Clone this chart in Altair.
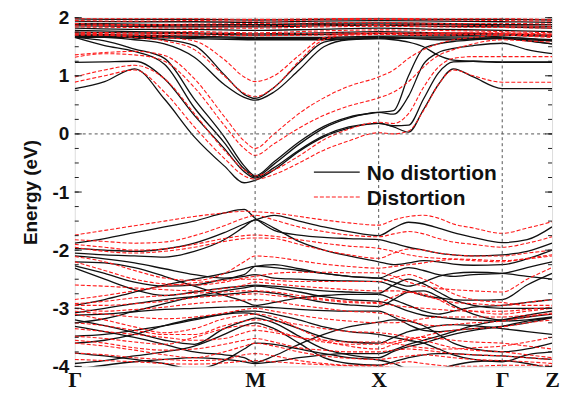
import altair as alt
import pandas as pd

# ---- k-path (distance along path) ----
K = [0, 30, 60, 90, 120, 150, 170, 181, 200, 225, 250, 275, 305, 320, 335, 350, 365, 380, 400, 429, 454, 479]
KF = [0, 60, 120, 181, 243, 305, 367, 429, 479]
K_HS = [0, 181, 305, 429, 479]
K_LABELS = ["Γ", "M", "X", "Γ", "Z"]
K_GRID = [181, 305, 429]

# ---- No distortion (black) ----
black_top = [
    [1.66, 1.66, 1.64, 1.62, 1.62, 1.64, 1.65, 1.64, 1.55],
    [1.69, 1.68, 1.66, 1.64, 1.64, 1.66, 1.67, 1.66, 1.62],
    [1.72, 1.70, 1.68, 1.66, 1.66, 1.68, 1.70, 1.67, 1.60],
    [1.75, 1.74, 1.72, 1.70, 1.71, 1.73, 1.72, 1.70, 1.68],
    [1.78, 1.76, 1.74, 1.72, 1.74, 1.76, 1.74, 1.72, 1.70],
    [1.82, 1.80, 1.80, 1.78, 1.80, 1.82, 1.80, 1.78, 1.76],
    [1.86, 1.85, 1.84, 1.84, 1.86, 1.87, 1.85, 1.84, 1.82],
    [1.88, 1.87, 1.86, 1.86, 1.88, 1.89, 1.88, 1.86, 1.85],
    [1.90, 1.89, 1.88, 1.88, 1.90, 1.91, 1.90, 1.88, 1.88],
    [1.94, 1.93, 1.93, 1.92, 1.94, 1.95, 1.94, 1.93, 1.92],
    [1.98, 1.97, 1.97, 1.96, 1.97, 1.98, 1.97, 1.97, 1.96],
]
black_bands = [
    [0.78, 0.90, 1.12, 0.60, -0.05, -0.55, -0.84, -0.80, -0.62, -0.30, -0.05, 0.10, 0.18, 0.12, 0.03, 0.42, 0.85, 1.12, 0.98, 0.78, 0.78, 0.78],
    [1.23, 1.24, 1.25, 0.95, 0.32, -0.25, -0.65, -0.76, -0.58, -0.28, -0.03, 0.12, 0.18, 0.14, 0.15, 0.60, 1.05, 1.24, 1.25, 1.23, 1.23, 1.23],
    [1.66, 1.52, 1.42, 1.20, 0.45, -0.15, -0.60, -0.74, -0.52, -0.18, 0.10, 0.27, 0.37, 0.34, 0.65, 1.20, 1.40, 1.47, 1.52, 1.56, 1.45, 1.38],
    [1.66, 1.60, 1.46, 1.30, 0.60, -0.05, -0.55, -0.72, -0.48, -0.14, 0.13, 0.29, 0.37, 0.40, 1.00, 1.47, 1.55, 1.59, 1.62, 1.65, 1.60, 1.55],
    [1.68, 1.66, 1.62, 1.55, 1.32, 0.85, 0.63, 0.58, 0.72, 1.10, 1.50, 1.62, 1.64, 1.62, 1.58, 1.50, 1.35, 1.27, 1.25, 1.24, 1.24, 1.24],
    [1.70, 1.68, 1.65, 1.62, 1.52, 1.02, 0.68, 0.61, 0.80, 1.22, 1.58, 1.64, 1.65, 1.66, 1.65, 1.63, 1.62, 1.62, 1.63, 1.64, 1.62, 1.60],
    [-1.88, -1.80, -1.70, -1.60, -1.50, -1.36, -1.30, -1.45, -1.66, -1.74, -1.78, -1.80, -1.82, -1.88, -1.95, -2.00, -2.05, -2.08, -2.10, -2.08, -2.02, -1.88],
    [-1.97, -2.00, -2.02, -1.98, -1.88, -1.70, -1.55, -1.48, -1.40, -1.50, -1.60, -1.68, -1.75, -1.62, -1.52, -1.55, -1.62, -1.70, -1.78, -1.87, -1.82, -1.60],
    [-2.05, -2.08, -2.10, -2.12, -2.02, -1.82, -1.60, -1.48, -1.62, -1.85, -2.00, -2.10, -2.20, -2.25, -2.22, -2.18, -2.20, -2.24, -2.26, -2.25, -2.15, -2.00],
    [-2.10, -2.15, -2.22, -2.32, -2.42, -2.48, -2.42, -2.28, -2.25, -2.32, -2.40, -2.45, -2.48, -2.38, -2.30, -2.35, -2.42, -2.45, -2.42, -2.40, -2.30, -2.20],
    [-2.27, -2.40, -2.55, -2.62, -2.60, -2.50, -2.45, -2.42, -2.48, -2.50, -2.52, -2.53, -2.54, -2.62, -2.70, -2.78, -2.82, -2.85, -2.86, -2.85, -2.60, -2.40],
    [-2.31, -2.50, -2.68, -2.78, -2.72, -2.65, -2.62, -2.60, -2.62, -2.66, -2.70, -2.72, -2.74, -2.60, -2.50, -2.58, -2.72, -2.85, -2.95, -3.00, -3.00, -3.00],
    [-3.08, -3.00, -2.92, -2.85, -2.80, -2.76, -2.73, -2.71, -2.74, -2.82, -2.90, -2.94, -2.97, -2.85, -2.72, -2.70, -2.80, -2.95, -3.10, -3.20, -3.15, -3.10],
    [-3.12, -3.10, -3.06, -3.02, -3.00, -2.98, -2.97, -2.97, -2.99, -3.02, -3.04, -3.05, -3.05, -3.15, -3.28, -3.38, -3.40, -3.38, -3.35, -3.31, -3.25, -3.16],
    [-3.20, -3.30, -3.42, -3.55, -3.62, -3.35, -3.22, -3.17, -3.25, -3.48, -3.70, -3.80, -3.85, -3.74, -3.66, -3.60, -3.52, -3.45, -3.38, -3.31, -3.22, -3.16],
    [-3.31, -3.40, -3.50, -3.62, -3.75, -3.80, -3.85, -3.93, -3.82, -3.62, -3.45, -3.32, -3.24, -3.20, -3.22, -3.30, -3.45, -3.60, -3.70, -3.75, -3.70, -3.60],
    [-3.48, -3.45, -3.38, -3.30, -3.20, -3.10, -3.05, -3.05, -3.10, -3.20, -3.32, -3.40, -3.45, -3.50, -3.55, -3.60, -3.70, -3.80, -3.88, -3.92, -3.80, -3.75],
    [-3.77, -3.82, -3.88, -3.95, -4.05, -3.90, -3.70, -3.60, -3.62, -3.70, -3.78, -3.85, -3.89, -3.95, -4.05, -4.10, -4.05, -3.98, -3.92, -3.90, -3.95, -4.05],
    [-3.95, -3.90, -3.82, -3.75, -3.65, -3.45, -3.30, -3.25, -3.35, -3.60, -3.85, -3.95, -3.98, -3.92, -3.85, -3.80, -3.78, -3.78, -3.80, -3.82, -3.85, -3.88],
    [-4.05, -3.98, -3.92, -3.88, -3.85, -3.88, -3.92, -3.95, -3.92, -3.85, -3.80, -3.78, -3.78, -3.72, -3.62, -3.55, -3.48, -3.40, -3.30, -3.20, -3.12, -3.05],
    [-2.95, -2.85, -2.72, -2.60, -2.50, -2.40, -2.32, -2.28, -2.30, -2.35, -2.40, -2.45, -2.48, -2.55, -2.62, -2.55, -2.45, -2.40, -2.38, -2.40, -2.45, -2.50],
    [-3.25, -3.18, -3.05, -2.92, -2.80, -2.70, -2.65, -2.62, -2.65, -2.72, -2.80, -2.85, -2.88, -2.95, -3.05, -3.12, -3.15, -3.18, -3.20, -3.22, -3.20, -3.15],
    [-3.60, -3.55, -3.45, -3.30, -3.18, -3.10, -3.08, -3.10, -3.20, -3.35, -3.50, -3.58, -3.60, -3.50, -3.40, -3.35, -3.30, -3.28, -3.30, -3.35, -3.40, -3.45],
    [-2.20, -2.22, -2.30, -2.45, -2.62, -2.78, -2.88, -2.95, -2.90, -2.82, -2.78, -2.76, -2.76, -2.85, -2.95, -3.05, -3.10, -3.05, -2.98, -2.95, -2.90, -2.85],
]

# ---- Distortion (red) ----
red_top = [
    [1.70, 1.70, 1.70, 1.69, 1.70, 1.71, 1.72, 1.70, 1.68],
    [1.72, 1.72, 1.73, 1.72, 1.73, 1.74, 1.74, 1.73, 1.71],
    [1.75, 1.74, 1.76, 1.74, 1.77, 1.79, 1.78, 1.76, 1.74],
    [1.84, 1.83, 1.82, 1.82, 1.84, 1.85, 1.84, 1.83, 1.82],
    [1.87, 1.86, 1.86, 1.86, 1.87, 1.88, 1.87, 1.86, 1.85],
    [1.90, 1.88, 1.89, 1.90, 1.91, 1.92, 1.90, 1.90, 1.89],
    [1.95, 1.94, 1.95, 1.94, 1.96, 1.97, 1.96, 1.95, 1.94],
    [1.98, 1.98, 1.98, 1.97, 1.98, 1.99, 1.98, 1.98, 1.97],
]
red_bands = [
    [0.89, 1.00, 1.10, 0.72, 0.12, -0.42, -0.72, -0.78, -0.70, -0.50, -0.28, -0.12, 0.02, 0.00, 0.05, 0.40, 0.85, 1.10, 1.00, 0.89, 0.89, 0.89],
    [0.98, 1.10, 1.18, 0.95, 0.35, -0.28, -0.62, -0.72, -0.62, -0.38, -0.10, 0.08, 0.20, 0.18, 0.35, 0.80, 1.15, 1.30, 1.33, 1.33, 1.33, 1.33],
    [1.32, 1.38, 1.36, 1.25, 0.80, 0.15, -0.25, -0.37, -0.17, 0.10, 0.32, 0.48, 0.62, 0.72, 0.90, 1.15, 1.35, 1.45, 1.55, 1.62, 1.60, 1.58],
    [1.36, 1.40, 1.42, 1.35, 0.95, 0.30, -0.12, -0.25, 0.00, 0.35, 0.62, 0.82, 0.98, 1.10, 1.30, 1.45, 1.55, 1.62, 1.66, 1.70, 1.68, 1.66],
    [1.72, 1.70, 1.66, 1.60, 1.45, 1.00, 0.70, 0.64, 0.80, 1.25, 1.62, 1.70, 1.71, 1.71, 1.70, 1.70, 1.70, 1.70, 1.71, 1.72, 1.71, 1.70],
    [1.74, 1.72, 1.70, 1.66, 1.60, 1.28, 0.98, 0.90, 1.00, 1.35, 1.66, 1.72, 1.73, 1.73, 1.72, 1.72, 1.73, 1.73, 1.74, 1.74, 1.73, 1.72],
    [-1.74, -1.66, -1.58, -1.50, -1.42, -1.36, -1.33, -1.34, -1.36, -1.42, -1.48, -1.53, -1.57, -1.48, -1.42, -1.40, -1.45, -1.55, -1.62, -1.71, -1.62, -1.51],
    [-1.82, -1.85, -1.88, -1.86, -1.75, -1.58, -1.45, -1.40, -1.48, -1.60, -1.68, -1.74, -1.77, -1.72, -1.68, -1.72, -1.80, -1.86, -1.90, -1.95, -1.88, -1.77],
    [-1.95, -2.02, -2.05, -2.02, -1.95, -1.85, -1.80, -1.79, -1.80, -1.90, -2.00, -2.08, -2.14, -2.05, -1.98, -2.00, -2.05, -2.08, -2.10, -2.10, -2.05, -2.00],
    [-2.11, -2.20, -2.35, -2.48, -2.52, -2.40, -2.20, -2.10, -2.12, -2.18, -2.24, -2.28, -2.31, -2.28, -2.25, -2.22, -2.18, -2.16, -2.18, -2.20, -2.14, -2.08],
    [-2.20, -2.35, -2.50, -2.58, -2.60, -2.55, -2.48, -2.45, -2.40, -2.38, -2.38, -2.39, -2.39, -2.45, -2.55, -2.62, -2.66, -2.68, -2.70, -2.72, -2.50, -2.30],
    [-2.85, -2.78, -2.70, -2.62, -2.56, -2.52, -2.50, -2.50, -2.52, -2.54, -2.54, -2.54, -2.54, -2.48, -2.42, -2.50, -2.62, -2.75, -2.85, -2.90, -2.95, -2.95],
    [-2.92, -2.88, -2.82, -2.78, -2.74, -2.72, -2.70, -2.70, -2.72, -2.78, -2.84, -2.88, -2.90, -2.80, -2.72, -2.75, -2.85, -2.98, -3.05, -3.10, -3.05, -3.00],
    [-3.00, -3.05, -3.02, -2.98, -2.92, -2.88, -2.86, -2.85, -2.88, -2.95, -3.00, -3.05, -3.08, -3.12, -3.20, -3.28, -3.30, -3.28, -3.25, -3.22, -3.15, -3.08],
    [-3.10, -3.20, -3.32, -3.42, -3.35, -3.18, -3.12, -3.10, -3.15, -3.35, -3.55, -3.65, -3.70, -3.62, -3.55, -3.48, -3.42, -3.38, -3.35, -3.32, -3.25, -3.20],
    [-3.25, -3.30, -3.38, -3.45, -3.45, -3.30, -3.22, -3.20, -3.22, -3.28, -3.35, -3.40, -3.42, -3.45, -3.50, -3.55, -3.62, -3.68, -3.72, -3.75, -3.80, -3.85],
    [-3.48, -3.52, -3.58, -3.62, -3.50, -3.35, -3.30, -3.30, -3.38, -3.50, -3.58, -3.62, -3.62, -3.58, -3.52, -3.50, -3.52, -3.55, -3.58, -3.60, -3.65, -3.70],
    [-3.60, -3.65, -3.72, -3.80, -3.85, -3.75, -3.65, -3.60, -3.65, -3.75, -3.82, -3.86, -3.88, -3.85, -3.82, -3.80, -3.82, -3.85, -3.88, -3.90, -3.92, -3.95],
    [-3.77, -3.80, -3.85, -3.88, -3.90, -3.88, -3.80, -3.78, -3.82, -3.90, -3.95, -3.98, -3.98, -3.95, -3.92, -3.95, -3.98, -4.00, -4.00, -3.98, -3.98, -3.98],
    [-3.88, -3.90, -3.92, -3.95, -3.96, -3.94, -3.91, -3.90, -3.92, -3.95, -3.97, -3.99, -4.00, -4.02, -4.05, -4.05, -4.05, -4.05, -4.05, -4.05, -4.05, -4.05],
    [-2.95, -2.95, -2.92, -2.88, -2.82, -2.78, -2.76, -2.75, -2.78, -2.82, -2.86, -2.90, -2.92, -2.95, -2.98, -3.00, -3.02, -3.04, -3.05, -3.05, -3.02, -2.98],
    [-3.05, -3.10, -3.15, -3.18, -3.15, -3.08, -3.02, -3.00, -3.05, -3.12, -3.18, -3.22, -3.25, -3.25, -3.22, -3.18, -3.15, -3.15, -3.15, -3.15, -3.12, -3.10],
    [-3.35, -3.40, -3.45, -3.50, -3.55, -3.52, -3.42, -3.38, -3.42, -3.50, -3.55, -3.58, -3.58, -3.60, -3.65, -3.68, -3.70, -3.70, -3.68, -3.65, -3.58, -3.50],
    [-2.60, -2.62, -2.65, -2.68, -2.70, -2.66, -2.60, -2.55, -2.58, -2.62, -2.65, -2.68, -2.70, -2.70, -2.72, -2.78, -2.85, -2.90, -2.92, -2.95, -2.90, -2.85],
    [-3.55, -3.60, -3.68, -3.72, -3.70, -3.62, -3.55, -3.52, -3.58, -3.68, -3.72, -3.75, -3.75, -3.72, -3.70, -3.72, -3.75, -3.78, -3.80, -3.82, -3.85, -3.88],
    [-1.90, -1.95, -2.00, -1.98, -1.90, -1.80, -1.75, -1.74, -1.76, -1.82, -1.88, -1.93, -1.97, -2.02, -2.08, -2.12, -2.14, -2.15, -2.16, -2.18, -2.15, -2.10],
]

SERIES = ["No distortion", "Distortion"]
COLORS = ["#111111", "#ff1a1a"]

Y_TICKS = [-4, -3, -2, -1, 0, 1, 2]
Y_MINOR = [v / 4 for v in range(-16, 9)]


def to_rows(series, tag, kk, bands):
    rows = []
    for i, b in enumerate(bands):
        for k, e in zip(kk, b):
            rows.append({"k": k, "E": e, "band": f"{tag}{i}", "series": series})
    return rows


rows_b = to_rows(SERIES[0], "bt", KF, black_top) + to_rows(SERIES[0], "bb", K, black_bands)
rows_r = to_rows(SERIES[1], "rt", KF, red_top) + to_rows(SERIES[1], "rb", K, red_bands)
df_b = pd.DataFrame(rows_b)
df_r = pd.DataFrame(rows_r)

W, H = 479, 350
xs = alt.Scale(domain=[0, 479], nice=False, zero=False)
ys = alt.Scale(domain=[-4, 2], nice=False, zero=False)

label_expr = " : ".join(
    [f"datum.value == {k} ? '{l}'" for k, l in zip(K_HS, K_LABELS)]
) + " : ''"

x_enc = alt.X("k:Q", scale=xs, axis=alt.Axis(
    values=K_HS, labelExpr=label_expr, ticks=False, domain=False, grid=False,
    labelFont="Liberation Serif", labelFontWeight="bold", labelFontSize=22,
    labelColor="#111", labelPadding=3, labelFlush=False, title=None))
y_enc = alt.Y("E:Q", scale=ys, axis=alt.Axis(
    values=Y_TICKS, labelExpr="datum.value < 0 ? '-' + abs(datum.value) : '' + datum.value",
    ticks=False, domain=False, grid=False,
    labelFont="Liberation Sans", labelFontWeight="bold", labelFontSize=19,
    labelColor="#111", labelPadding=6,
    title="Energy (eV)", titleFont="Liberation Sans", titleFontWeight="bold",
    titleFontSize=19, titleColor="#111", titlePadding=12))

black = alt.Chart(df_b).mark_line(
    interpolate="monotone", clip=True, color=COLORS[0], strokeWidth=1.3
).encode(x=x_enc, y=y_enc, detail="band:N")

red = alt.Chart(df_r).mark_line(
    interpolate="monotone", clip=True, color=COLORS[1], strokeWidth=1.1,
    strokeDash=[4, 2]
).encode(x="k:Q", y="E:Q", detail="band:N")

grid_v = alt.Chart(pd.DataFrame({"k": K_GRID})).mark_rule(
    color="#555", strokeDash=[3, 3], strokeWidth=1
).encode(x="k:Q")
grid_h = alt.Chart(pd.DataFrame({"E": [0]})).mark_rule(
    color="#555", strokeDash=[3, 3], strokeWidth=1
).encode(y="E:Q")

major = pd.DataFrame({"E": Y_TICKS})
minor = pd.DataFrame({"E": Y_MINOR})
tick_layers = [
    alt.Chart(minor).mark_rule(color="#222", strokeWidth=1).encode(y="E:Q", x=alt.value(0), x2=alt.value(4)),
    alt.Chart(major).mark_rule(color="#222", strokeWidth=1).encode(y="E:Q", x=alt.value(0), x2=alt.value(7)),
    alt.Chart(minor).mark_rule(color="#222", strokeWidth=1).encode(y="E:Q", x=alt.value(W), x2=alt.value(W - 4)),
    alt.Chart(major).mark_rule(color="#222", strokeWidth=1).encode(y="E:Q", x=alt.value(W), x2=alt.value(W - 7)),
]

leg = pd.DataFrame({"series": SERIES})
leg_black = alt.Chart(leg.iloc[[0]]).mark_rule(color=COLORS[0], strokeWidth=1.3).encode(
    x=alt.value(240), x2=alt.value(286), y=alt.value(155))
leg_red = alt.Chart(leg.iloc[[1]]).mark_rule(color=COLORS[1], strokeWidth=1.1, strokeDash=[4, 2]).encode(
    x=alt.value(240), x2=alt.value(286), y=alt.value(180))
leg_t1 = alt.Chart(leg.iloc[[0]]).mark_text(
    align="left", baseline="alphabetic", font="Liberation Sans",
    fontWeight="bold", fontSize=21, color="#111"
).encode(x=alt.value(293), y=alt.value(163), text="series:N")
leg_t2 = alt.Chart(leg.iloc[[1]]).mark_text(
    align="left", baseline="alphabetic", font="Liberation Sans",
    fontWeight="bold", fontSize=21, color="#111"
).encode(x=alt.value(293), y=alt.value(188), text="series:N")

chart = alt.layer(
    black, red, grid_v, grid_h, *tick_layers, leg_black, leg_red, leg_t1, leg_t2
).properties(
    width=W, height=H,
    autosize=alt.AutoSizeParams(type="none"),
    padding={"left": 67, "top": 9, "right": 12, "bottom": 28},
).configure_view(
    stroke="#111", strokeWidth=1.5
).configure(background="white")

chart.save("out.html", embed_options={"renderer": "svg", "actions": False})
